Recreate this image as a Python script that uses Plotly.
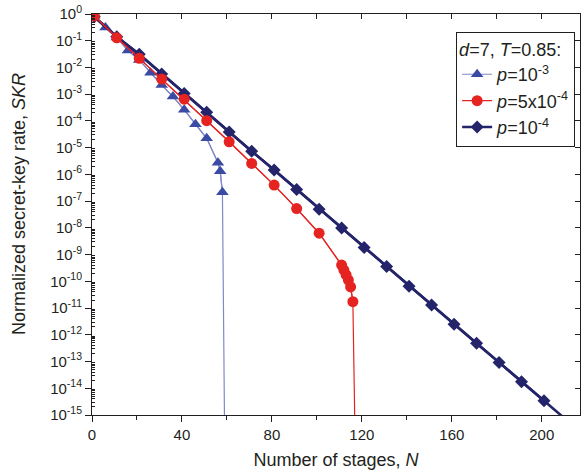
import plotly.graph_objects as go

# ---------------- data ----------------
N_p1e3 = [1, 6, 11, 16, 21, 26, 31, 36, 41, 46, 51, 56, 57, 58]
SKR_p1e3 = [0.851, 0.316, 0.132, 0.0427, 0.0191, 6.31e-3, 2.19e-3, 8.13e-4,
            2.63e-4, 7.59e-5, 2.24e-5, 2.75e-6, 1.32e-6, 2.14e-7]
N_p1e3_end = 59          # rate drops to ~0 here
SKR_p1e3_end = 1e-16

N_p5e4 = [1, 11, 21, 31, 41, 51, 61, 71, 81, 91, 101, 111, 112, 113, 114, 115, 116]
SKR_p5e4 = [0.85, 0.129, 0.0219, 3.7e-3, 6.5e-4, 1.02e-4, 1.66e-5, 2.57e-6,
            3.98e-7, 5.25e-8, 6.3e-9, 4.07e-10, 2.63e-10, 1.74e-10, 1.12e-10,
            6.2e-11, 1.74e-11]
N_p5e4_end = 117
SKR_p5e4_end = 1e-16

N_p1e4 = [1, 11, 21, 31, 41, 51, 61, 71, 81, 91, 101, 111, 121, 131, 141,
          151, 161, 171, 181, 191, 201]
SKR_p1e4 = [0.79, 0.141, 0.0309, 5.75e-3, 1.07e-3, 2.09e-4, 3.89e-5, 7.41e-6,
            1.45e-6, 2.75e-7, 5.0e-8, 9.8e-9, 1.86e-9, 3.55e-10, 6.6e-11,
            1.29e-11, 2.5e-12, 4.8e-13, 9.3e-14, 1.74e-14, 3.4e-15]
N_p1e4_end = 211
SKR_p1e4_end = 6.5e-16

x_ticks = [0, 40, 80, 120, 160, 200]
x_minor = [20, 60, 100, 140, 180]
y_exps = list(range(0, -16, -1))

# ---------------- style ----------------
FONT = "Liberation Sans, Arial, sans-serif"
TXT = "#231f20"
C_BLUE = "#3b4ba3"
C_BLUE_LINE = "#7f89c8"
C_RED = "#e52421"
C_NAVY = "#24246b"

fig = go.Figure()

# p = 1e-3
fig.add_trace(go.Scatter(x=N_p1e3 + [N_p1e3_end], y=SKR_p1e3 + [SKR_p1e3_end],
                         mode="lines", line=dict(color=C_BLUE_LINE, width=1.2),
                         showlegend=False, hoverinfo="skip"))
fig.add_trace(go.Scatter(x=N_p1e3, y=SKR_p1e3, mode="lines+markers",
                         name="<i>p</i>=10<sup>-3</sup>", legendrank=1,
                         line=dict(color=C_BLUE_LINE, width=1.2),
                         marker=dict(symbol="triangle-up", size=11, color=C_BLUE,
                                     line=dict(width=0))))
# p = 1e-4
fig.add_trace(go.Scatter(x=N_p1e4 + [N_p1e4_end], y=SKR_p1e4 + [SKR_p1e4_end],
                         mode="lines", line=dict(color=C_NAVY, width=2.6),
                         showlegend=False, hoverinfo="skip"))
fig.add_trace(go.Scatter(x=N_p1e4, y=SKR_p1e4, mode="lines+markers",
                         name="<i>p</i>=10<sup>-4</sup>", legendrank=3,
                         line=dict(color=C_NAVY, width=2.6),
                         marker=dict(symbol="diamond", size=10, color=C_NAVY,
                                     line=dict(width=0))))
# p = 5e-4
fig.add_trace(go.Scatter(x=N_p5e4 + [N_p5e4_end], y=SKR_p5e4 + [SKR_p5e4_end],
                         mode="lines", line=dict(color=C_RED, width=1.2),
                         showlegend=False, hoverinfo="skip"))
fig.add_trace(go.Scatter(x=N_p5e4, y=SKR_p5e4, mode="lines+markers",
                         name="<i>p</i>=5x10<sup>-4</sup>", legendrank=2,
                         line=dict(color=C_RED, width=1.2),
                         marker=dict(symbol="circle", size=11, color=C_RED,
                                     line=dict(width=0))))

# invisible trace to create the mirrored top/right axes
fig.add_trace(go.Scatter(x=[0], y=[1], xaxis="x2", yaxis="y2", mode="markers",
                         marker=dict(opacity=0), showlegend=False,
                         hoverinfo="skip"))

XR = [0, 217]
YR = [-15, 0]

y_tickvals = [10.0 ** e for e in y_exps]
y_ticktext = ["10<sup>%d</sup>" % e for e in y_exps]
y_minor = [m * 10.0 ** e for e in range(-15, 0) for m in range(2, 10)]

fig.update_layout(
    width=582, height=476,
    margin=dict(l=92, r=2, t=14, b=61),
    paper_bgcolor="white", plot_bgcolor="white",
    font=dict(family=FONT, color=TXT, size=15),
    xaxis=dict(range=XR, autorange=False, showgrid=False, zeroline=False,
               showline=True, linecolor=TXT, linewidth=1,
               tickmode="array", tickvals=x_ticks,
               ticktext=[str(v) for v in x_ticks],
               ticks="outside", ticklen=6, tickcolor=TXT, tickwidth=1,
               tickfont=dict(size=15, family=FONT, color=TXT),
               minor=dict(tickvals=x_minor, ticks="outside", ticklen=4,
                          tickcolor=TXT, showgrid=False),
               title=dict(text="Number of stages, <i>N</i>",
                          font=dict(size=18, family=FONT, color=TXT),
                          standoff=11)),
    yaxis=dict(type="log", range=YR, autorange=False, showgrid=False,
               zeroline=False, showline=True, linecolor=TXT, linewidth=1,
               tickmode="array", tickvals=y_tickvals, ticktext=y_ticktext,
               ticks="outside", ticklen=6, tickcolor=TXT, tickwidth=1,
               tickfont=dict(size=15, family=FONT, color=TXT),
               minor=dict(tickvals=y_minor, ticks="inside", ticklen=3,
                          tickcolor=TXT, showgrid=False)),
    xaxis2=dict(range=XR, autorange=False, overlaying="x", side="top",
                anchor="y", showgrid=False, zeroline=False, showline=True,
                linecolor=TXT, linewidth=1, tickmode="array",
                tickvals=[20, 40, 60, 80, 100, 120, 140, 160, 180, 200],
                ticks="inside", ticklen=5, tickcolor=TXT,
                showticklabels=False),
    yaxis2=dict(type="log", range=YR, autorange=False, overlaying="y",
                side="right", anchor="x2", showgrid=False, zeroline=False,
                showline=True, linecolor=TXT, linewidth=1, tickmode="array",
                tickvals=y_tickvals, ticks="inside", ticklen=5, tickcolor=TXT,
                showticklabels=False),
    legend=dict(x=0.99, y=0.956, xanchor="right", yanchor="top",
                bgcolor="white", bordercolor=TXT, borderwidth=1,
                font=dict(size=18, family=FONT, color=TXT),
                title=dict(text="<i>d</i>=7, <i>T</i>=0.85:",
                           font=dict(size=18, family=FONT, color=TXT)),
                tracegroupgap=0, itemwidth=30),
    annotations=[dict(text="Normalized secret-key rate, <i>SKR</i>",
                      textangle=-90, xref="paper", yref="paper",
                      x=-0.1496, y=0.526, xanchor="center", yanchor="middle",
                      showarrow=False,
                      font=dict(size=18, family=FONT, color=TXT))],
)

fig.write_html("out.html")
